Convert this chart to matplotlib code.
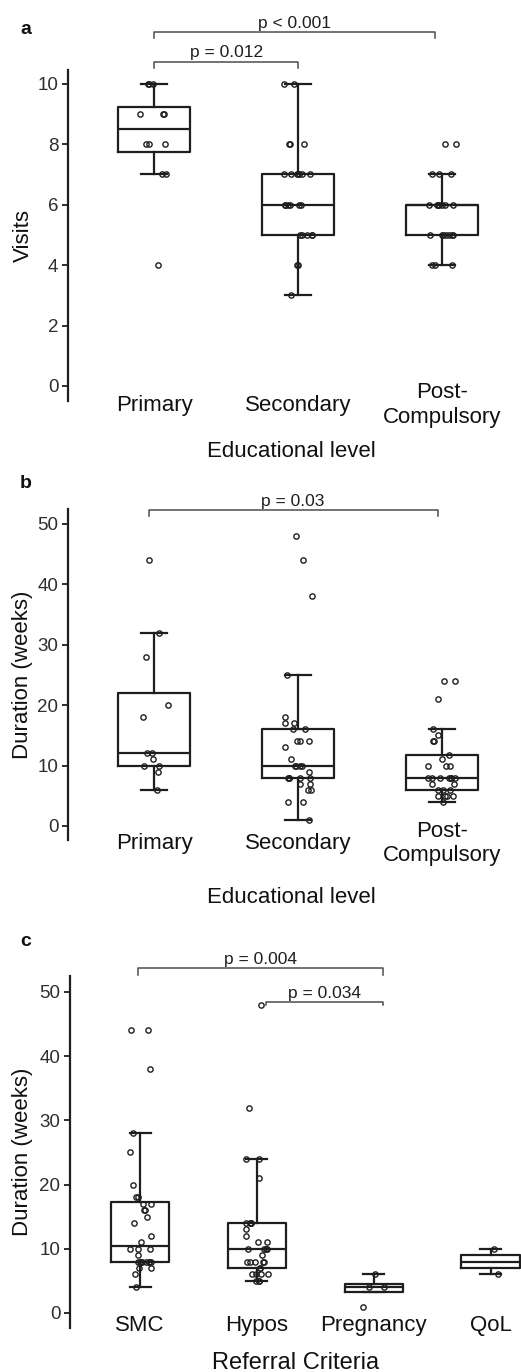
import matplotlib.pyplot as plt
import numpy as np

plt.rcParams["font.family"] = ["Liberation Sans", "DejaVu Sans"]

INK = "#1e1e1e"
rng = np.random.default_rng(7)

# ---------------------------------------------------------------------------
# data
# ---------------------------------------------------------------------------
EDU_LEVELS = ["Primary", "Secondary", "Post-\nCompulsory"]
REFERRALS = ["SMC", "Hypos", "Pregnancy", "QoL"]

# a: number of visits by educational level
visits_primary = [4, 7, 7, 8, 8, 8, 9, 9, 9, 10, 10, 10]
visits_secondary = [3, 4, 4, 5, 5, 5, 5, 5, 6, 6, 6, 6, 6, 6,
                    7, 7, 7, 7, 7, 7, 7, 8, 8, 8, 10, 10]
visits_post = [4, 4, 4, 5, 5, 5, 5, 5, 5, 5, 6, 6, 6, 6, 6, 6, 6,
               7, 7, 7, 8, 8]

# b: duration (weeks) by educational level
weeks_primary = [6, 9, 10, 10, 11, 12, 12, 18, 20, 28, 32, 44]
weeks_secondary = [1, 4, 4, 6, 6, 7, 7, 8, 8, 8, 8, 8, 9, 10, 10, 10, 10,
                   11, 13, 14, 14, 14, 16, 16, 17, 17, 18, 25, 38, 44, 48]
weeks_post = [4, 5, 5, 5, 5, 6, 6, 6, 7, 7, 8, 8, 8, 8, 8, 8, 8,
              10, 10, 10, 11, 11.8, 14, 14, 15, 16, 21, 24, 24]

# c: duration (weeks) by referral criteria
weeks_smc = [4, 6, 7, 7, 8, 8, 8, 8, 8, 8, 8, 8, 9, 10, 10, 10, 11, 12,
             14, 15, 16, 16, 17, 17, 18, 18, 20, 25, 28, 38, 44, 44]
weeks_hypos = [5, 5, 5, 6, 6, 6, 6, 7, 7, 8, 8, 8, 8, 8, 9, 10, 10, 10, 10,
               11, 11, 12, 13, 14, 14, 14, 14, 21, 24, 24, 32, 48]
weeks_preg = [1, 4, 4, 6]
weeks_qol = [6, 10]


def draw_panel(ax, groups, labels, ylabel, xlabel):
    line = dict(color=INK, linewidth=1.6)
    ax.boxplot(groups, positions=np.arange(len(groups)), widths=0.5,
               capwidths=0.18, showfliers=False, boxprops=line,
               whiskerprops=line, capprops=line, medianprops=line)
    for i, vals in enumerate(groups):
        xs = i + rng.uniform(-0.1, 0.1, len(vals))
        ax.plot(xs, vals, "o", ms=3.8, mfc="none", mec=INK, mew=1.0, zorder=3)

    ax.set_xticks(np.arange(len(groups)))
    ax.set_xticklabels(labels, fontsize=16, color="#111111")
    for lbl in ax.get_xticklabels():
        lbl.set_va("center")
    ax.tick_params(axis="x", length=0)
    ax.tick_params(axis="y", direction="out", length=4.5, width=1.3,
                   color=INK, labelsize=13.5, labelcolor="#2e2e2e", pad=2.5)
    for side in ("top", "right", "bottom"):
        ax.spines[side].set_visible(False)
    ax.spines["left"].set_linewidth(1.6)
    ax.spines["left"].set_color(INK)
    ax.set_ylabel(ylabel, fontsize=16, color="#111111", va="center")
    ax.set_xlabel(xlabel, fontsize=16, color="#111111", va="center")


def bracket(ax, x1, x2, y, drop, label):
    ax.plot([x1, x1, x2, x2], [y - drop, y, y, y - drop], color="#4d4d4d",
            lw=1.1, clip_on=False)
    ax.annotate(label, ((x1 + x2) / 2, y), xytext=(0, 1),
                textcoords="offset points", ha="center", va="bottom",
                fontsize=12.5, color=INK, annotation_clip=False)


fig = plt.figure(figsize=(5.21, 13.72), dpi=100)

# ---------------------------------------------------------------------------
# a
# ---------------------------------------------------------------------------
ax_a = fig.add_axes([0.1305, 0.7077, 0.856, 0.2413])
draw_panel(ax_a, [visits_primary, visits_secondary, visits_post],
           EDU_LEVELS, "Visits", "Educational level")
ax_a.set_xlim(-0.6, 2.5)
ax_a.set_ylim(-0.5, 10.46)
ax_a.set_yticks([0, 2, 4, 6, 8, 10])
ax_a.tick_params(axis="x", pad=2.9)
ax_a.yaxis.set_label_coords(-0.101, 0.5)
ax_a.xaxis.set_label_coords(0.5, -0.151)
bracket(ax_a, 0, 1, 10.73, 0.21, "p = 0.012")
bracket(ax_a, 0, 1.95, 11.72, 0.2, "p < 0.001")

# ---------------------------------------------------------------------------
# b
# ---------------------------------------------------------------------------
ax_b = fig.add_axes([0.1305, 0.3878, 0.856, 0.2413])
draw_panel(ax_b, [weeks_primary, weeks_secondary, weeks_post],
           EDU_LEVELS, "Duration (weeks)", "Educational level")
ax_b.set_xlim(-0.6, 2.5)
ax_b.set_ylim(-2.32, 52.5)
ax_b.set_yticks([0, 10, 20, 30, 40, 50])
ax_b.tick_params(axis="x", pad=2.5)
ax_b.yaxis.set_label_coords(-0.101, 0.5)
ax_b.xaxis.set_label_coords(0.5, -0.175)
bracket(ax_b, -0.04, 1.97, 52.3, 1.0, "p = 0.03")

# ---------------------------------------------------------------------------
# c
# ---------------------------------------------------------------------------
ax_c = fig.add_axes([0.1344, 0.0321, 0.8656, 0.2566])
draw_panel(ax_c, [weeks_smc, weeks_hypos, weeks_preg, weeks_qol],
           REFERRALS, "Duration (weeks)", "Referral Criteria")
ax_c.set_xlim(-0.6, 3.26)
ax_c.set_ylim(-2.34, 52.5)
ax_c.set_yticks([0, 10, 20, 30, 40, 50])
ax_c.tick_params(axis="x", pad=-1.5)
ax_c.xaxis.label.set_fontsize(17)
ax_c.yaxis.set_label_coords(-0.106, 0.5)
ax_c.xaxis.set_label_coords(0.5, -0.1)
bracket(ax_c, -0.02, 2.08, 53.7, 1.1, "p = 0.004")
bracket(ax_c, 1.08, 2.08, 48.4, 0.5, "p = 0.034")

for letter, y in (("a", 30), ("b", 483), ("c", 942)):
    fig.text(20 / 521, 1 - y / 1372, letter, fontsize=14, fontweight="bold",
             va="center", ha="left", color="#111111")

fig.savefig("out.png", dpi=100)
